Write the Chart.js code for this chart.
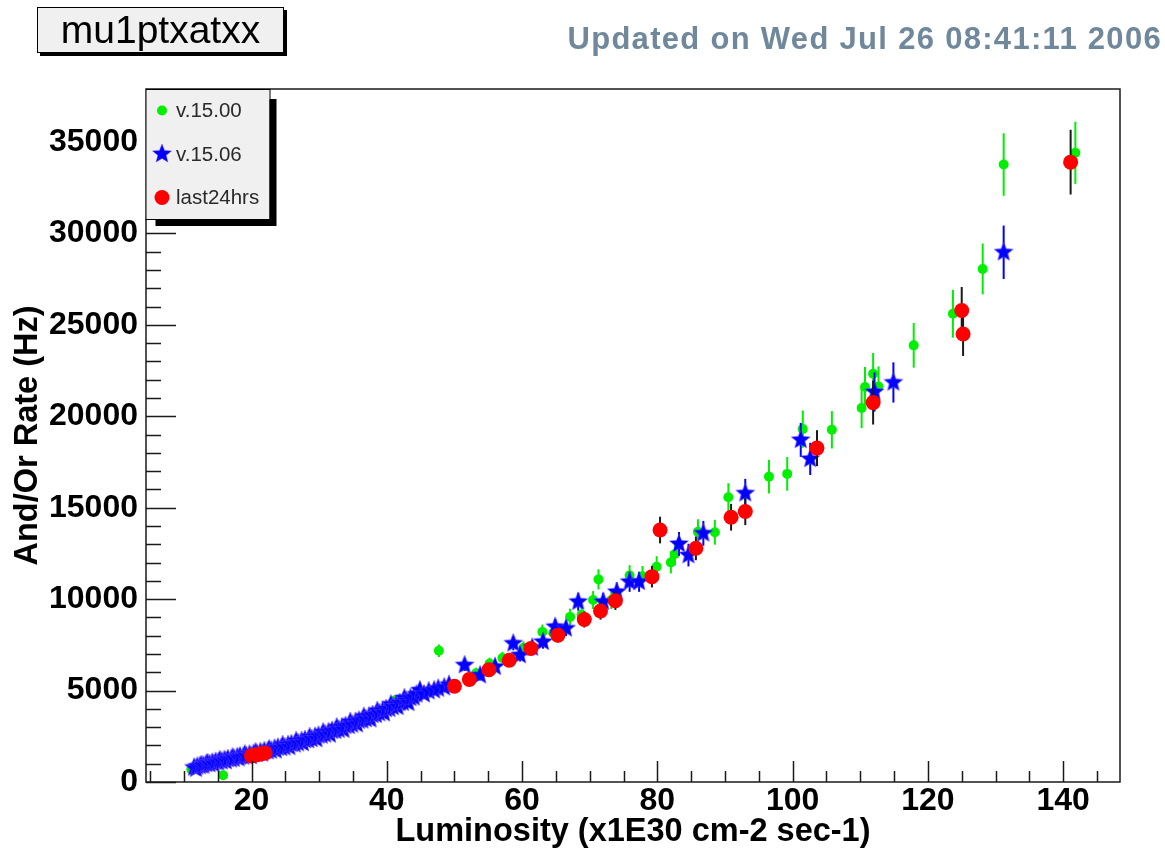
<!DOCTYPE html>
<html>
<head>
<meta charset="utf-8">
<script src="https://cdn.jsdelivr.net/npm/chart.js@4.4.1/dist/chart.umd.min.js"></script>
<style>
  body { margin: 0; background: #fff; font-family: "Liberation Sans", Arial, sans-serif; }
  #wrap { position: relative; width: 1165px; height: 859px; }
  #plotName {
    position: absolute; left: 37px; top: 7px; width: 245px; height: 44px;
    border: 1px solid #000; background: #f0f0f0; box-shadow: 3px 3px 0 #000;
    font-size: 39px; line-height: 44px; text-align: center; color: #000;
  }
  #stamp {
    position: absolute; right: 3px; top: 21px; font-size: 31px; font-weight: bold;
    letter-spacing: 1.3px; color: #70889c; white-space: nowrap;
  }
  canvas { position: absolute; left: 0; top: 0; }
</style>
</head>
<body>
<div id="wrap">
  <canvas id="rateChart" width="1165" height="859"></canvas>
  <div id="plotName">mu1ptxatxx</div>
  <div id="stamp">Updated on Wed Jul 26 08:41:11 2006</div>
</div>
<script>
// [luminosity, rate (Hz), error (Hz)]
const v1500 = [
  [11.1, 680, 40], [15.8, 370, 30], [18.2, 1320, 65], [23.1, 1790, 90],
  [26.3, 2130, 105], [28.8, 2430, 120], [32.2, 2900, 145], [35.1, 3310, 165],
  [38.3, 3740, 185], [41.2, 4470, 220], [44.2, 4680, 230], [47.7, 7180, 350],
  [53.2, 5950, 300], [55.2, 6480, 320], [57.1, 6780, 340], [60.2, 7330, 360],
  [63.0, 8210, 400], [64.6, 8150, 400], [67.1, 9030, 450], [68.8, 9150, 450],
  [70.5, 9950, 490], [71.3, 11080, 550], [73.2, 9950, 490], [75.9, 11300, 560],
  [77.8, 11250, 560], [79.9, 11770, 580], [82.0, 12010, 600], [82.6, 12470, 620],
  [86.0, 13690, 680], [88.5, 13660, 680], [90.5, 15570, 770], [96.5, 16700, 920],
  [99.2, 16850, 920], [101.5, 19300, 1020], [105.8, 19260, 1020], [110.2, 20450, 1100],
  [110.7, 21600, 1100], [111.9, 22330, 1130], [112.7, 21630, 1100], [117.9, 23880, 1220],
  [123.7, 25610, 1310], [128.1, 28060, 1390], [131.2, 33770, 1710], [141.8, 34410, 1700]
];

const v1506 = [
  [11.5, 790, 40], [11.8, 730, 40], [12.0, 850, 40], [12.4, 880, 45], [12.6, 930, 45],
  [12.9, 900, 45], [13.3, 990, 50], [13.5, 1040, 50], [13.8, 980, 50], [14.2, 1060, 50],
  [14.4, 990, 50], [14.7, 1110, 55], [15.1, 1080, 55], [15.3, 1200, 60], [15.6, 1130, 60],
  [16.0, 1210, 60], [16.2, 1140, 60], [16.5, 1260, 60], [17.0, 1240, 65], [17.2, 1350, 65],
  [17.4, 1280, 65], [17.9, 1370, 65], [18.1, 1300, 65], [18.3, 1400, 70], [18.8, 1390, 70],
  [19.0, 1510, 75], [19.2, 1430, 70], [19.7, 1510, 75], [19.9, 1420, 70], [20.3, 1550, 75],
  [20.6, 1630, 80], [20.8, 1540, 80], [21.3, 1640, 80], [21.6, 1560, 80], [21.9, 1690, 80],
  [22.4, 1680, 85], [22.6, 1790, 90], [22.9, 1720, 85], [23.4, 1830, 90], [23.6, 1730, 90],
  [23.9, 1880, 90], [24.4, 1860, 95], [24.6, 2020, 100], [24.9, 1900, 95], [25.4, 2030, 100],
  [25.6, 1920, 95], [25.9, 2080, 100], [26.4, 2060, 105], [26.6, 2240, 110], [26.9, 2120, 105],
  [27.4, 2250, 110], [27.6, 2130, 110], [27.9, 2300, 115], [28.4, 2290, 115], [28.6, 2460, 120],
  [28.9, 2350, 120], [29.4, 2480, 120], [29.6, 2350, 120], [29.9, 2540, 125], [30.4, 2540, 130],
  [30.6, 2720, 135], [30.9, 2600, 130], [31.4, 2730, 135], [31.6, 2600, 130], [31.9, 2800, 140],
  [32.4, 2800, 140], [32.6, 2990, 150], [32.9, 2860, 145], [33.4, 3000, 150], [33.6, 2860, 145],
  [33.9, 3070, 150], [34.4, 3070, 155], [34.6, 3290, 160], [34.9, 3140, 160], [35.4, 3290, 160],
  [35.6, 3160, 160], [35.9, 3360, 165], [36.4, 3370, 170], [36.6, 3570, 175], [36.9, 3440, 175],
  [37.4, 3590, 180], [37.6, 3430, 175], [37.9, 3670, 180], [38.4, 3680, 185], [38.6, 3890, 190],
  [38.9, 3760, 190], [39.4, 3910, 195], [39.6, 3760, 190], [39.9, 3990, 200], [40.4, 4000, 200],
  [40.6, 4240, 210], [40.9, 4100, 205], [41.4, 4240, 210], [41.6, 4110, 205], [41.9, 4330, 215],
  [42.4, 4340, 220], [42.6, 4590, 225], [42.9, 4440, 225], [43.2, 4330, 220], [43.5, 4600, 230],
  [44.0, 4630, 230], [44.4, 4790, 240], [44.9, 5020, 250], [45.5, 4800, 240], [46.2, 4960, 245],
  [47.0, 5020, 250], [47.6, 5110, 255], [48.5, 5180, 260], [49.2, 5320, 265],
  [51.5, 6390, 320], [53.8, 5840, 290], [56.0, 6300, 310], [58.7, 7580, 380], [59.7, 6940, 350],
  [61.5, 7350, 370], [63.1, 7670, 380], [64.9, 8490, 420], [66.5, 8400, 420], [68.3, 9860, 490],
  [72.0, 9860, 490], [74.0, 10400, 520], [75.9, 10950, 550], [77.3, 10950, 550], [83.2, 13020, 650],
  [84.6, 12410, 620], [86.8, 13600, 680], [93.0, 15790, 790], [101.2, 18710, 930], [102.6, 17670, 880],
  [112.1, 21330, 1070], [114.9, 21850, 1100], [131.2, 28970, 1460]
];

const last24hrs = [
  [20.0, 1430, 70], [20.5, 1470, 75], [21.0, 1510, 75], [21.5, 1550, 80], [22.0, 1590, 80],
  [50.0, 5240, 260], [52.2, 5610, 280], [55.1, 6140, 300], [58.1, 6660, 330],
  [61.3, 7300, 360], [65.3, 8030, 400], [69.2, 8890, 440], [71.6, 9350, 470],
  [73.8, 9910, 500], [79.2, 11230, 590], [80.4, 13780, 730], [85.7, 12780, 650],
  [90.9, 14480, 730], [93.0, 14790, 740], [103.6, 18260, 980], [111.9, 20750, 1200],
  [125.0, 25790, 1280], [125.2, 24500, 1200], [141.1, 33900, 1770]
];

const xTickValues = [20, 40, 60, 80, 100, 120, 140];
const yTickValues = [0, 5000, 10000, 15000, 20000, 25000, 30000, 35000];

const FONT = '"Liberation Sans", Arial, sans-serif';

function toPoints(rows) {
  return rows.map(([x, y, err]) => ({ x, y, err }));
}

// filled five-pointed star used as a point marker
function makeStar(color, outer, inner) {
  const size = Math.ceil(outer * 2 + 4);
  const c = document.createElement('canvas');
  c.width = c.height = size;
  const g = c.getContext('2d');
  const cx = size / 2, cy = size / 2;
  g.beginPath();
  for (let i = 0; i < 10; i++) {
    const r = i % 2 ? inner : outer;
    const a = -Math.PI / 2 + i * Math.PI / 5;
    g.lineTo(cx + r * Math.cos(a), cy + r * Math.sin(a));
  }
  g.closePath();
  g.fillStyle = color;
  g.fill();
  g.strokeStyle = 'rgba(110, 80, 255, 0.45)';
  g.lineWidth = 1;
  g.stroke();
  return c;
}

const blueStar = makeStar('#0000ff', 10, 4.4);

// vertical error bars, drawn just before each dataset's markers
const errorBars = {
  id: 'errorBars',
  beforeDatasetDraw(chart, args) {
    const ds = chart.data.datasets[args.index];
    const { x, y } = chart.scales;
    const ctx = chart.ctx;
    const area = chart.chartArea;
    ctx.save();
    ctx.beginPath();
    ctx.rect(area.left, area.top, area.right - area.left, area.bottom - area.top);
    ctx.clip();
    ctx.strokeStyle = ds.errorColor;
    ctx.lineWidth = 2;
    ds.data.forEach(p => {
      const px = x.getPixelForValue(p.x);
      ctx.beginPath();
      ctx.moveTo(px, y.getPixelForValue(p.y - p.err));
      ctx.lineTo(px, y.getPixelForValue(p.y + p.err));
      ctx.stroke();
    });
    ctx.restore();
  }
};

// frame and inward tick marks
const frameAxes = {
  id: 'frameAxes',
  afterDatasetsDraw(chart) {
    const { ctx, chartArea: a, scales: { x, y } } = chart;
    ctx.save();
    ctx.strokeStyle = '#1a1a1a';
    ctx.lineWidth = 1.5;
    ctx.strokeRect(a.left, a.top, a.right - a.left, a.bottom - a.top);
    ctx.beginPath();
    for (let v = 5; v <= x.max; v += 5) {
      const px = Math.round(x.getPixelForValue(v)) + 0.5;
      const len = v % 20 === 0 ? 21 : 11;
      ctx.moveTo(px, a.bottom);
      ctx.lineTo(px, a.bottom - len);
    }
    for (let v = 0; v <= y.max; v += 1000) {
      const py = Math.round(y.getPixelForValue(v)) + 0.5;
      const len = v % 5000 === 0 ? 30 : 15;
      ctx.moveTo(a.left, py);
      ctx.lineTo(a.left + len, py);
    }
    ctx.stroke();
    ctx.restore();
  }
};

// boxed legend in the upper left corner of the frame
const boxLegend = {
  id: 'boxLegend',
  afterDraw(chart) {
    const { ctx, chartArea: a } = chart;
    const bx = a.left - 0.5, by = a.top, bw = 124, bh = 130;
    ctx.save();
    ctx.fillStyle = '#000';
    ctx.fillRect(bx + 10, by + 10, bw - 3, bh - 3);
    ctx.fillStyle = '#f0f0f0';
    ctx.fillRect(bx, by, bw, bh);
    ctx.strokeStyle = '#000';
    ctx.lineWidth = 1;
    ctx.strokeRect(bx + 0.5, by + 0.5, bw, bh);
    ctx.font = '20.5px ' + FONT;
    ctx.textBaseline = 'middle';
    chart.data.datasets.forEach((ds, i) => {
      const cy = by + 21.5 + i * 43.5;
      const cx = bx + 16.5;
      if (ds.pointStyle === 'circle') {
        ctx.beginPath();
        ctx.arc(cx, cy, ds.legendRadius, 0, Math.PI * 2);
        ctx.fillStyle = ds.backgroundColor;
        ctx.fill();
      } else {
        ctx.drawImage(ds.pointStyle, cx - ds.pointStyle.width / 2, cy - ds.pointStyle.height / 2);
      }
      ctx.fillStyle = '#2a2a2a';
      ctx.fillText(ds.label, bx + 30.5, cy + 1);
    });
    ctx.restore();
  }
};

new Chart(document.getElementById('rateChart'), {
  type: 'scatter',
  data: {
    datasets: [
      {
        label: 'v.15.00',
        data: toPoints(v1500),
        pointStyle: 'circle',
        pointRadius: 5,
        legendRadius: 5,
        backgroundColor: '#00f000',
        borderColor: '#00f000',
        borderWidth: 0,
        errorColor: '#00ee00',
        order: 2
      },
      {
        label: 'v.15.06',
        data: toPoints(v1506),
        pointStyle: blueStar,
        backgroundColor: '#0000ff',
        borderColor: '#0000ff',
        errorColor: '#0000ff',
        order: 1
      },
      {
        label: 'last24hrs',
        data: toPoints(last24hrs),
        pointStyle: 'circle',
        pointRadius: 7.5,
        legendRadius: 7.5,
        backgroundColor: '#ff0000',
        borderColor: '#ff0000',
        borderWidth: 0,
        errorColor: '#1a1a1a',
        order: 0
      }
    ]
  },
  options: {
    responsive: false,
    animation: false,
    events: [],
    layout: { padding: { top: 89, right: 45, left: 0, bottom: 0 } },
    scales: {
      x: {
        type: 'linear',
        min: 4.4,
        max: 148.4,
        afterBuildTicks: axis => { axis.ticks = xTickValues.map(v => ({ value: v })); },
        afterFit: axis => { axis.height = 77; },
        grid: { display: false, drawTicks: false },
        border: { display: false },
        ticks: {
          autoSkip: false,
          maxRotation: 0,
          padding: 0,
          color: '#000',
          callback: v => String(v),
          font: { family: FONT, size: 32, weight: 'bold' }
        },
        title: {
          display: true,
          text: 'Luminosity (x1E30 cm-2 sec-1)',
          color: '#000',
          padding: { bottom: 7 },
          font: { family: FONT, size: 32.5, weight: 'bold' }
        }
      },
      y: {
        type: 'linear',
        min: 0,
        max: 37900,
        afterBuildTicks: axis => { axis.ticks = yTickValues.map(v => ({ value: v })); },
        afterFit: axis => { axis.width = 146; },
        grid: { display: false, drawTicks: false },
        border: { display: false },
        ticks: {
          autoSkip: false,
          padding: 8,
          color: '#000',
          callback: v => String(v),
          font: { family: FONT, size: 32, weight: 'bold' }
        },
        title: {
          display: true,
          text: 'And/Or Rate (Hz)',
          color: '#000',
          padding: { top: 9 },
          font: { family: FONT, size: 32.5, weight: 'bold' }
        }
      }
    },
    plugins: {
      legend: { display: false },
      tooltip: { enabled: false }
    }
  },
  plugins: [errorBars, frameAxes, boxLegend]
});
</script>
</body>
</html>
